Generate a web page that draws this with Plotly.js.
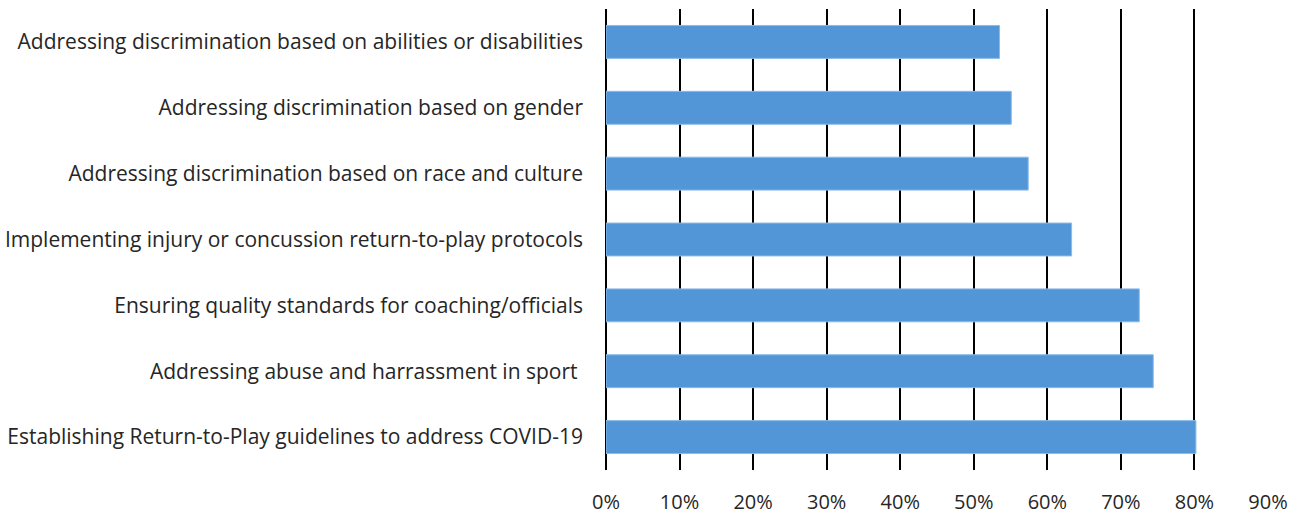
<!DOCTYPE html>
<html>
<head>
<meta charset="utf-8">
<script src="https://cdn.plot.ly/plotly-3.0.1.min.js"></script>
<style>
html,body{margin:0;padding:0;background:#fff;}
#chart{width:1302px;height:515px;}
</style>
</head>
<body>
<div id="chart"></div>
<script>
const categories = [
  "Addressing discrimination based on abilities or disabilities",
  "Addressing discrimination based on gender",
  "Addressing discrimination based on race and culture",
  "Implementing injury or concussion return-to-play protocols",
  "Ensuring quality standards for coaching/officials",
  "Addressing abuse and harrassment in sport ",
  "Establishing Return-to-Play guidelines to address COVID-19"
];
const values = [0.535, 0.551, 0.574, 0.633, 0.725, 0.744, 0.802];
const tickValues = [0, 0.1, 0.2, 0.3, 0.4, 0.5, 0.6, 0.7, 0.8, 0.9];
const tickLabels = ["0%", "10%", "20%", "30%", "40%", "50%", "60%", "70%", "80%", "90%"];

const trace = {
  type: 'bar',
  orientation: 'h',
  x: values,
  y: categories,
  marker: {color: '#5296d8', line: {color: '#8dbbe8', width: 1}},
  hoverinfo: 'x+y'
};

const layout = {
  width: 1302,
  height: 515,
  margin: {l: 606, r: 34, t: 9, b: 45},
  paper_bgcolor: '#ffffff',
  plot_bgcolor: '#ffffff',
  showlegend: false,
  bargap: 0.5,
  font: {family: '"Open Sans", sans-serif', color: '#262626', size: 20},
  xaxis: {
    range: [0, 0.9],
    tickvals: tickValues,
    ticktext: tickLabels,
    showgrid: true,
    gridcolor: '#000000',
    gridwidth: 2,
    zeroline: true,
    zerolinecolor: '#000000',
    zerolinewidth: 2,
    showline: false,
    ticks: '',
    ticklabelstandoff: 18,
    tickfont: {size: 20, color: '#262626'},
    fixedrange: true
  },
  yaxis: {
    type: 'category',
    autorange: 'reversed',
    showgrid: false,
    zeroline: false,
    showline: false,
    ticks: '',
    ticklabelstandoff: 22,
    tickfont: {size: 21, color: '#262626'},
    fixedrange: true
  }
};

Plotly.newPlot('chart', [trace], layout, {displayModeBar: false, staticPlot: true});
</script>
</body>
</html>
